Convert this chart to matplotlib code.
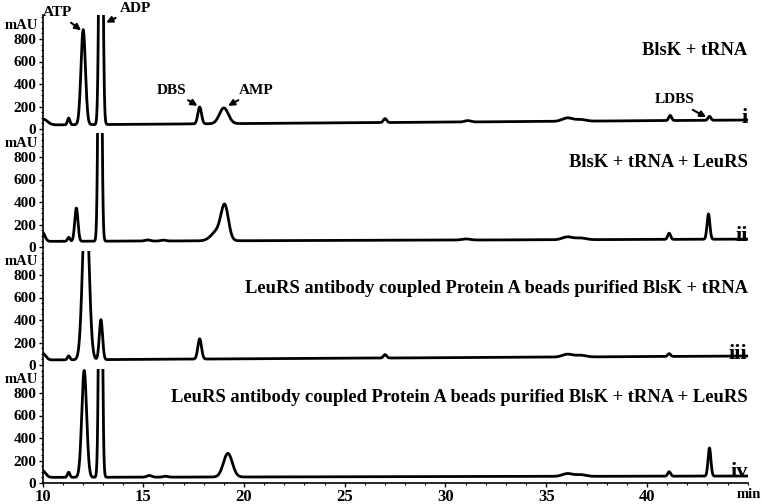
import numpy as np
import matplotlib
matplotlib.use('Agg')
import matplotlib.pyplot as plt
from matplotlib.ticker import MultipleLocator

plt.rcParams['font.family'] = ['Liberation Serif', 'DejaVu Serif']
plt.rcParams['font.weight'] = 'bold'

# retention time axis (min)
t = np.linspace(10, 45, 3501)

# peak tables: retention time (min), height (mAU), width (sigma, min)
# baseline: mAU at 10 min and at 45 min
base_i = [36, 80]
rt_i = [10.05, 11.3, 12.02, 12.9, 17.8, 19.0, 27.0, 31.1, 36.05, 36.7, 41.15, 43.1]
h_i = [50, 60, 845, 4000, 150, 140, 35, 12, 30, 15, 45, 35]
w_i = [0.2, 0.06, 0.11, 0.075, 0.09, 0.22, 0.08, 0.15, 0.25, 0.25, 0.07, 0.07]

base_ii = [50, 70]
rt_ii = [10.0, 11.3, 11.68, 12.85, 15.2, 16.0, 18.7, 19.05, 31.0, 36.05, 36.7, 41.1, 43.05]
h_ii = [80, 35, 295, 4000, 10, 8, 90, 280, 10, 25, 15, 55, 225]
w_ii = [0.12, 0.06, 0.08, 0.07, 0.12, 0.12, 0.3, 0.18, 0.2, 0.25, 0.25, 0.07, 0.07]

base_iii = [45, 80]
rt_iii = [10.0, 11.3, 12.15, 12.9, 17.8, 27.0, 36.05, 36.7, 41.1]
h_iii = [60, 35, 1500, 355, 180, 30, 25, 15, 25]
w_iii = [0.15, 0.06, 0.155, 0.08, 0.09, 0.08, 0.25, 0.25, 0.07]

base_iv = [50, 62]
rt_iv = [10.0, 11.3, 12.07, 12.88, 15.3, 16.1, 19.2, 36.05, 36.7, 41.1, 43.1]
h_iv = [60, 45, 950, 4000, 15, 8, 210, 25, 15, 40, 250]
w_iv = [0.15, 0.06, 0.12, 0.07, 0.12, 0.12, 0.22, 0.25, 0.25, 0.07, 0.07]

labels = ['BlsK + tRNA',
          'BlsK + tRNA + LeuRS',
          'LeuRS antibody coupled Protein A beads purified BlsK + tRNA',
          'LeuRS antibody coupled Protein A beads purified BlsK + tRNA + LeuRS']
numerals = ['i', 'ii', 'iii', 'iv']
label_y = [702, 747, 684, 760]
x_ticks = [10, 15, 20, 25, 30, 35, 40]

panels = [(base_i, rt_i, h_i, w_i), (base_ii, rt_ii, h_ii, w_ii),
          (base_iii, rt_iii, h_iii, w_iii), (base_iv, rt_iv, h_iv, w_iv)]


def trace(base, rt, h, w):
    y = base[0] + (base[1] - base[0]) * (t - 10) / 35
    for c, a, s in zip(rt, h, w):
        y = y + a * np.exp(-0.5 * ((t - c) / s) ** 2)
    return y


W, H = 762, 504
fig = plt.figure(figsize=(W / 100, H / 100), dpi=100)

ymax = 1010
px_per = 0.1125
zeros_px = [129, 247, 365, 483]
ymins = [-15, -15, -15, 0]
left = 42.5 / W
width = 35 * 20.15 / W

axes = []
for k, (base, rt, h, w) in enumerate(panels):
    top_px = zeros_px[k] - ymax * px_per
    bot_px = zeros_px[k] - ymins[k] * px_per
    ax = fig.add_axes([left, (H - bot_px) / H, width, (bot_px - top_px) / H])
    ax.plot(t, trace(base, rt, h, w), color='black', lw=2.0)
    ax.set_xlim(10, 45)
    ax.set_ylim(ymins[k], ymax)
    ax.spines['top'].set_visible(False)
    ax.spines['right'].set_visible(False)
    ax.spines['left'].set_linewidth(1.2)
    ax.yaxis.set_minor_locator(MultipleLocator(50))
    ax.set_yticks([0, 200, 400, 600, 800])
    ax.tick_params(axis='y', which='major', direction='out', length=3, width=1, labelsize=11, pad=1.5)
    ax.tick_params(axis='y', which='minor', direction='out', length=1.5, width=0.8)
    for lab in ax.get_yticklabels():
        lab.set_fontweight('bold')
    ax.annotate('mAU', xy=(0, 918), xycoords=('axes fraction', 'data'),
                xytext=(-3, 0), textcoords='offset points', ha='right', va='center',
                fontsize=10.5, fontweight='bold', annotation_clip=False)
    ax.text(45, label_y[k], labels[k], ha='right', va='center', fontsize=13.3, fontweight='bold')
    ax.text(45, 55, numerals[k], ha='right', va='baseline', fontsize=16, fontweight='bold')
    if k < 3:
        ax.spines['bottom'].set_visible(False)
        ax.set_xticks([])
    else:
        ax.spines['bottom'].set_linewidth(1.2)
        ax.set_xticks(x_ticks)
        ax.xaxis.set_minor_locator(MultipleLocator(1))
        ax.tick_params(axis='x', which='major', direction='out', length=3, width=1, labelsize=12, pad=1)
        ax.tick_params(axis='x', which='minor', direction='out', length=1.5, width=0.8)
        for lab in ax.get_xticklabels():
            lab.set_fontweight('bold')
    axes.append(ax)

# peak annotations in the first trace
arrow = dict(arrowstyle='-|>', color='black', lw=1.5, mutation_scale=9, shrinkA=1, shrinkB=1)
ax1 = axes[0]
notes = [('ATP', (11.97, 870), (10.75, 1035)),
         ('ADP', (13.1, 940), (14.6, 1075)),
         ('DBS', (17.75, 200), (16.4, 345)),
         ('AMP', (19.15, 200), (20.6, 345)),
         ('LDBS', (43.0, 100), (41.35, 258))]
for name, xy, xyt in notes:
    ax1.annotate(name, xy=xy, xytext=xyt, ha='center', va='center', fontsize=11,
                 fontweight='bold', arrowprops=arrow, annotation_clip=False)

fig.text(761 / W, 1 - 495 / H, 'min', ha='right', va='center', fontsize=10.5, fontweight='bold')

plt.savefig('out.png', dpi=100)
